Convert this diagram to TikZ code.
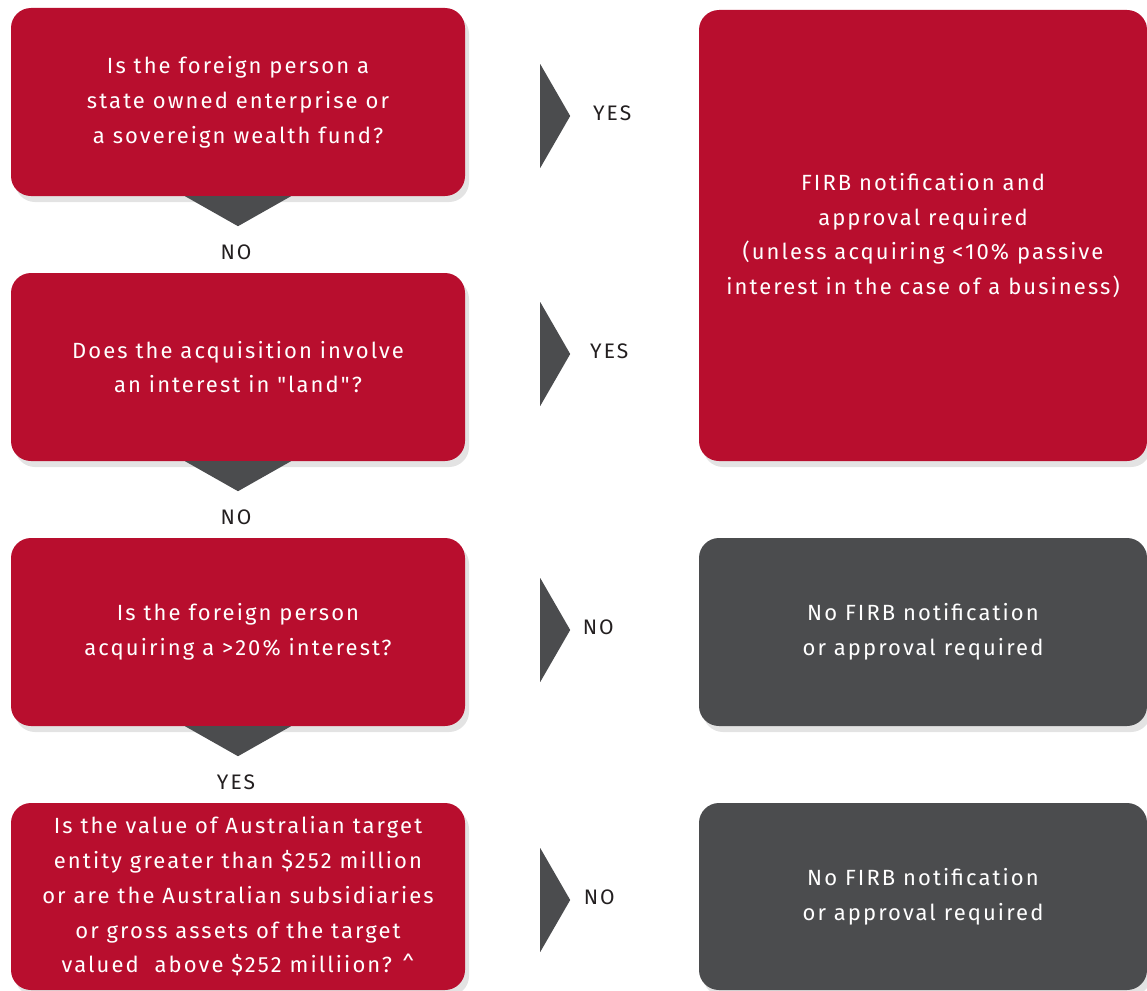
\documentclass[tikz,border=0pt]{standalone}
\usepackage{fontspec}
\setmainfont{Fira Sans}
\newfontfamily\boxfont[LetterSpace=9.5]{Fira Sans}
\usepackage{xcolor}
\usepackage{tikz}
\usetikzlibrary{calc,shadows}

\definecolor{firbred}{HTML}{B80E2E}
\definecolor{firbgrey}{HTML}{4B4C4E}
\definecolor{labelink}{HTML}{231F20}

\tikzset{
  box/.style={rounded corners=20pt, align=center, text=white, inner sep=2pt,
    font=\boxfont\fontsize{22}{34.8}\selectfont,
    drop shadow={opacity=0.22, shadow xshift=4pt, shadow yshift=-6pt}},
  qbox/.style={box, fill=firbred, minimum width=454pt, minimum height=188pt},
  abox/.style={box, minimum width=448pt, minimum height=188pt},
  tip/.style={fill=firbgrey},
  answer/.style={text=labelink, font=\boxfont\fontsize{21}{24}\selectfont}
}

\begin{document}
\begin{tikzpicture}[x=1pt,y=-1pt]
          \useasboundingbox (0,0) rectangle (1147,990);
          % questions
          \node[qbox] (q1) at (238,102) {Is the foreign person a\\state owned enterprise or\\a sovereign wealth fund?};
          \node[qbox] (q2) at (238,367) {Does the acquisition involve\\an interest in "land"?};
          \node[qbox] (q3) at (238,632) {Is the foreign person\\acquiring a >20\% interest?};
          \node[qbox, minimum height=187pt] (q4) at (238,896.5) {Is the value of Australian target\\entity greater than \$252 million\\or are the Australian subsidiaries\\or gross assets of the target\\valued~ above \$252 milliion? \^{}};

          % outcomes
          \node[abox, fill=firbred, minimum height=451pt] (r1) at (923,235.5) {FIRB notification and\\approval required\\(unless acquiring <10\% passive\\interest in the case of a business)};
          \node[abox, fill=firbgrey] (r2) at (923,632) {No FIRB notification\\or approval required};
          \node[abox, fill=firbgrey, minimum height=187pt] (r3) at (923,896.5) {No FIRB notification\\or approval required};

          % down arrows
          \foreach \n/\lab [count=\i] in {q1/NO, q2/NO, q3/YES}{%
            \fill[tip] ($(\n.south)+(-53,0)$) -- ($(\n.south)+(53,0)$) -- ($(\n.south)+(0,30)$) -- cycle;
            \node[answer] (d\i) at ($(\n.south)+(-2,56)$) {\lab};
          }

          % right arrows
          \foreach \n/\dy/\lx/\lab [count=\i] in {q1/14/147/YES, q2/-13/144/YES, q3/-2/133/NO, q4/3.5/134/NO}{%
            \fill[tip] ($(\n.east)+(75,\dy-52)$) -- ($(\n.east)+(105,\dy)$) -- ($(\n.east)+(75,\dy+52)$) -- cycle;
            \node[answer] (s\i) at ($(\n.east)+(\lx,\dy-3)$) {\lab};
          }
        \end{tikzpicture}
\end{document}
